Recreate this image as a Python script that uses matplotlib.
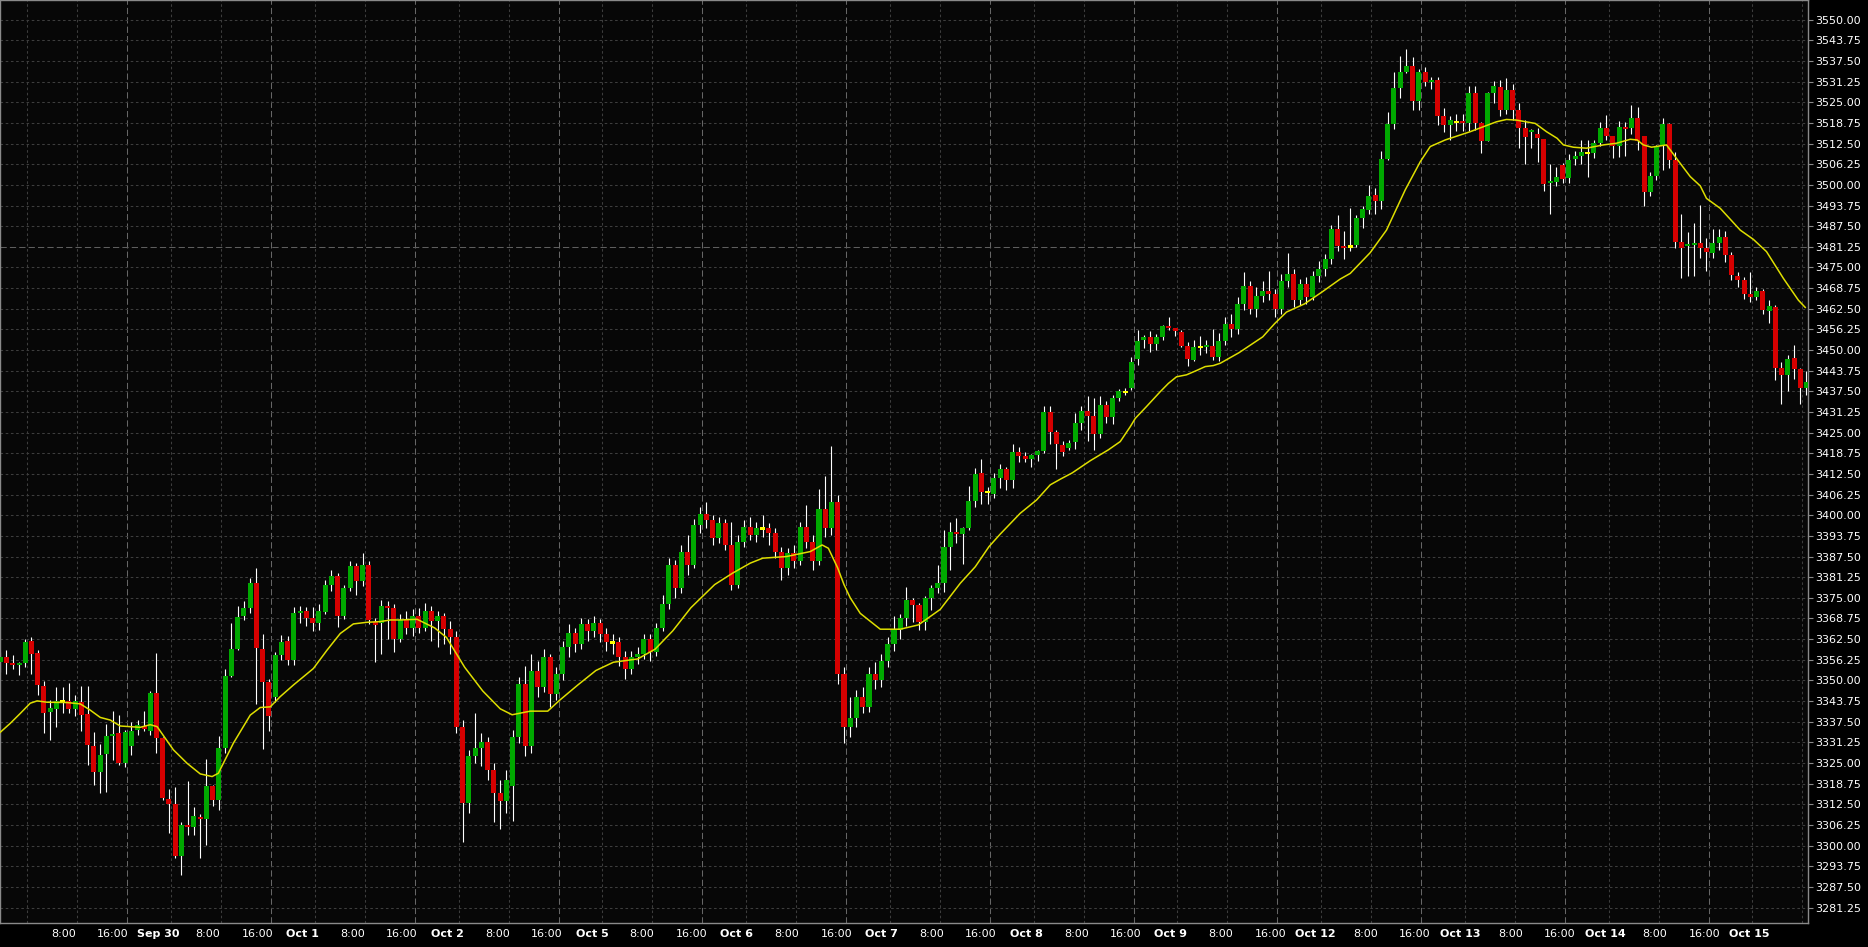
import matplotlib
matplotlib.use("Agg")
import matplotlib.pyplot as plt
import numpy as np

# hourly bars, 23 per session; Sep 29 and Oct 15 are partial sessions
opens = [
    3355.7, 3357.2, 3355.4, 3354.8, 3355.4, 3361.9, 3358.4, 3348.3, 3340.5, 3341.4, 3343.6, 3343.8, 3341.4, 3343.5, 3339.9, 3330.2, 3322.4, 3327.7, 3333.2, 3334.1, 3325.1,
    3330.2, 3335.0, 3336.2, 3334.7, 3346.2, 3332.7, 3314.1, 3312.7, 3296.9, 3306.2, 3305.6, 3308.7, 3308.2, 3318.0, 3313.8, 3329.5, 3351.3, 3359.5, 3369.5, 3371.9, 3379.5, 3359.5, 3349.6,
    3345.1, 3357.7, 3361.9, 3356.2, 3370.4, 3371.0, 3368.9, 3367.4, 3370.7, 3379.0, 3381.5, 3369.5, 3378.0, 3384.5, 3380.0, 3385.0, 3367.7, 3367.4, 3372.5, 3371.9, 3362.5, 3368.3, 3366.0,
    3369.5, 3366.0, 3371.0, 3368.0, 3369.5, 3365.5, 3363.0, 3336.0, 3313.0, 3327.0, 3329.5, 3331.5, 3323.0, 3316.0, 3313.5, 3318.0, 3333.0, 3349.0, 3330.0, 3353.0, 3348.0, 3357.0, 3346.0,
    3352.0, 3360.0, 3364.5, 3361.0, 3367.0, 3365.0, 3367.5, 3364.0, 3361.5, 3361.5, 3357.0, 3353.5, 3357.0, 3358.0, 3362.5, 3358.5, 3366.0, 3373.0, 3385.0, 3378.0, 3389.0, 3385.0, 3397.0,
    3400.5, 3398.5, 3393.0, 3397.5, 3391.0, 3379.0, 3392.0, 3396.5, 3394.0, 3396.0, 3396.0, 3394.5, 3389.0, 3384.0, 3388.5, 3386.0, 3396.5, 3392.0, 3386.0, 3402.0, 3396.0, 3404.0, 3352.0,
    3336.0, 3338.5, 3345.0, 3342.0, 3352.0, 3350.0, 3356.0, 3361.0, 3365.2, 3368.9, 3374.3, 3372.8, 3367.8, 3374.9, 3378.0, 3379.5, 3390.4, 3394.9, 3394.4, 3396.2, 3404.3, 3412.8, 3407.1,
    3406.4, 3411.3, 3414.0, 3410.7, 3419.1, 3417.9, 3417.0, 3418.2, 3419.4, 3431.2, 3425.2, 3421.3, 3420.5, 3422.3, 3427.9, 3431.5, 3430.0, 3424.7, 3433.4, 3429.7, 3435.5, 3437.4, 3438.4,
    3447.4, 3452.9, 3453.9, 3451.9, 3453.9, 3457.3, 3456.7, 3455.5, 3451.2, 3447.0, 3451.0, 3451.0, 3451.2, 3448.0, 3452.7, 3458.0, 3456.5, 3464.0, 3469.5, 3462.5, 3466.5, 3468.0, 3467.0,
    3462.5, 3471.0, 3473.0, 3465.0, 3470.0, 3466.0, 3472.5, 3474.5, 3477.5, 3486.5, 3481.5, 3481.3, 3481.8, 3489.9, 3492.4, 3496.9, 3495.1, 3507.8, 3518.5, 3529.3, 3534.2, 3536.0, 3525.4,
    3534.2, 3531.1, 3531.7, 3520.8, 3518.1, 3519.1, 3519.4, 3518.8, 3527.8, 3518.7, 3513.3, 3527.8, 3529.6, 3522.7, 3528.7, 3522.7, 3517.2, 3515.9, 3515.4, 3513.9, 3500.7, 3500.9, 3506.0,
    3502.1, 3507.8, 3508.7, 3509.7, 3509.6, 3512.6, 3517.2, 3514.8, 3511.7, 3517.5, 3517.2, 3520.2, 3514.8, 3497.8, 3502.7, 3511.8, 3518.5, 3507.5, 3482.7, 3481.6, 3481.7, 3482.4, 3480.8,
    3479.4, 3482.3, 3484.2, 3478.8, 3472.4, 3471.2, 3467.0, 3466.0, 3468.0, 3461.9, 3463.1, 3444.7, 3442.4, 3447.7, 3444.3, 3438.5,
]
highs = [
    3358.7, 3359.2, 3357.7, 3355.6, 3362.4, 3363.2, 3359.3, 3349.8, 3344.1, 3347.9, 3347.9, 3349.3, 3345.6, 3348.3, 3348.3, 3334.5, 3330.9, 3336.7, 3340.6, 3339.5, 3335.0,
    3337.3, 3338.0, 3340.7, 3346.9, 3358.3, 3332.9, 3317.1, 3317.7, 3307.0, 3319.5, 3311.7, 3309.6, 3326.2, 3318.3, 3333.2, 3353.5, 3367.4, 3372.5, 3374.0, 3381.0, 3384.0, 3364.0, 3350.5,
    3358.7, 3363.7, 3363.4, 3372.2, 3372.5, 3372.2, 3372.2, 3373.1, 3380.5, 3383.5, 3382.5, 3379.0, 3386.0, 3385.5, 3388.5, 3386.0, 3369.0, 3374.3, 3374.0, 3373.0, 3370.0, 3371.0, 3371.5,
    3372.0, 3373.5, 3372.5, 3371.0, 3370.5, 3368.0, 3365.0, 3338.0, 3329.0, 3340.0, 3334.0, 3333.0, 3325.0, 3320.0, 3323.0, 3335.0, 3351.0, 3354.5, 3358.0, 3356.0, 3359.5, 3358.0, 3354.0,
    3362.0, 3367.0, 3366.0, 3369.0, 3368.5, 3369.5, 3368.5, 3366.0, 3364.0, 3363.0, 3359.0, 3359.0, 3360.0, 3364.0, 3364.0, 3367.5, 3376.0, 3387.0, 3386.5, 3391.0, 3394.0, 3399.0, 3402.5,
    3404.0, 3400.0, 3399.5, 3399.0, 3398.0, 3394.0, 3398.5, 3399.5, 3398.0, 3400.0, 3397.5, 3396.0, 3390.5, 3390.0, 3391.0, 3398.0, 3403.0, 3394.0, 3408.0, 3412.0, 3421.0, 3406.0, 3354.0,
    3345.0, 3347.0, 3348.0, 3354.0, 3355.5, 3358.0, 3363.0, 3369.5, 3370.0, 3378.3, 3374.9, 3373.4, 3375.5, 3378.9, 3384.9, 3395.5, 3397.9, 3399.1, 3396.5, 3408.8, 3414.3, 3417.0, 3408.6,
    3412.8, 3415.5, 3414.6, 3421.6, 3420.6, 3419.1, 3418.5, 3419.7, 3433.1, 3433.1, 3425.8, 3422.5, 3422.8, 3431.0, 3433.1, 3436.1, 3435.6, 3436.0, 3434.5, 3436.5, 3438.3, 3438.5, 3447.9,
    3456.1, 3454.6, 3455.8, 3455.0, 3457.6, 3460.1, 3456.7, 3456.1, 3452.5, 3452.9, 3454.3, 3452.9, 3456.4, 3455.3, 3460.0, 3461.0, 3466.0, 3473.5, 3471.0, 3469.0, 3471.0, 3474.0, 3468.5,
    3473.0, 3479.5, 3474.5, 3471.5, 3472.0, 3474.0, 3477.0, 3479.0, 3488.0, 3491.0, 3486.0, 3493.0, 3490.9, 3493.6, 3500.0, 3499.1, 3510.3, 3522.1, 3534.2, 3539.0, 3541.1, 3538.7, 3535.0,
    3535.7, 3532.8, 3532.7, 3523.3, 3520.8, 3521.4, 3521.4, 3529.9, 3529.9, 3518.9, 3528.1, 3531.4, 3531.7, 3532.3, 3530.5, 3524.8, 3519.6, 3517.0, 3517.2, 3513.9, 3506.3, 3505.4, 3506.5,
    3509.3, 3510.3, 3513.6, 3513.6, 3513.6, 3519.0, 3521.2, 3514.8, 3519.3, 3519.0, 3524.2, 3523.6, 3514.8, 3504.0, 3512.1, 3520.2, 3518.8, 3509.9, 3491.2, 3485.7, 3488.5, 3493.9, 3483.9,
    3486.6, 3486.6, 3486.0, 3479.7, 3473.5, 3472.0, 3473.6, 3469.0, 3468.5, 3465.2, 3463.5, 3446.5, 3448.5, 3451.5, 3444.7, 3443.6,
]
lows = [
    3352.6, 3352.0, 3353.4, 3351.6, 3354.2, 3352.0, 3345.6, 3334.2, 3331.9, 3336.0, 3340.0, 3340.0, 3339.3, 3334.8, 3324.4, 3318.3, 3316.0, 3316.3, 3326.0, 3324.4, 3323.9,
    3327.4, 3333.5, 3334.8, 3333.5, 3328.1, 3313.8, 3303.7, 3296.3, 3291.2, 3303.2, 3303.2, 3296.3, 3300.2, 3312.1, 3310.8, 3328.1, 3351.0, 3359.2, 3368.3, 3370.5, 3342.9, 3329.2, 3334.8,
    3343.5, 3356.2, 3354.7, 3354.7, 3367.4, 3366.5, 3365.0, 3365.3, 3370.0, 3377.0, 3366.2, 3368.5, 3377.0, 3376.0, 3378.5, 3367.0, 3355.6, 3358.0, 3362.5, 3358.6, 3361.5, 3364.0, 3363.5,
    3364.5, 3365.0, 3362.0, 3360.0, 3361.0, 3358.0, 3334.0, 3301.0, 3310.0, 3325.0, 3324.0, 3320.0, 3307.0, 3305.0, 3310.0, 3307.5, 3331.0, 3327.0, 3328.0, 3345.0, 3346.5, 3342.0, 3344.0,
    3350.0, 3357.0, 3358.5, 3359.5, 3362.0, 3363.0, 3361.5, 3359.0, 3358.0, 3354.5, 3350.5, 3352.0, 3355.0, 3356.5, 3356.0, 3357.5, 3365.0, 3371.5, 3375.0, 3376.5, 3382.0, 3384.0, 3394.5,
    3396.0, 3391.0, 3391.5, 3389.5, 3377.5, 3378.0, 3390.5, 3392.5, 3392.0, 3393.5, 3391.0, 3387.0, 3380.5, 3382.0, 3384.0, 3385.0, 3390.0, 3383.5, 3385.0, 3393.5, 3394.0, 3349.0, 3331.0,
    3333.0, 3336.0, 3340.0, 3340.5, 3347.5, 3348.0, 3354.0, 3359.0, 3362.5, 3366.5, 3367.8, 3365.2, 3365.2, 3371.3, 3376.4, 3376.8, 3383.4, 3391.7, 3385.3, 3395.5, 3402.5, 3403.4, 3403.4,
    3405.2, 3408.2, 3407.6, 3408.2, 3416.2, 3416.1, 3414.6, 3416.4, 3418.8, 3421.6, 3414.0, 3418.0, 3419.6, 3419.9, 3425.8, 3422.6, 3419.8, 3423.5, 3428.0, 3427.5, 3434.7, 3436.5, 3438.0,
    3445.5, 3450.7, 3449.5, 3450.0, 3453.0, 3456.1, 3454.3, 3451.0, 3445.2, 3446.7, 3448.5, 3449.0, 3447.0, 3446.7, 3451.5, 3454.0, 3455.0, 3462.0, 3461.0, 3460.0, 3464.5, 3465.0, 3460.0,
    3461.0, 3469.0, 3463.0, 3463.5, 3464.0, 3465.0, 3470.5, 3472.5, 3476.0, 3480.0, 3477.5, 3480.0, 3481.3, 3486.8, 3491.2, 3491.2, 3492.7, 3507.5, 3516.9, 3526.3, 3534.0, 3522.7, 3522.7,
    3529.9, 3529.0, 3518.1, 3516.1, 3513.6, 3516.4, 3516.4, 3516.4, 3516.6, 3509.7, 3513.3, 3524.8, 3520.8, 3521.5, 3519.6, 3511.2, 3506.3, 3511.2, 3506.9, 3498.1, 3491.2, 3499.7, 3500.6,
    3500.6, 3506.0, 3506.3, 3502.5, 3508.1, 3511.8, 3513.6, 3508.1, 3508.4, 3508.7, 3515.4, 3510.6, 3493.6, 3496.6, 3501.5, 3504.5, 3505.0, 3480.9, 3471.8, 3472.4, 3472.4, 3477.9, 3473.9,
    3477.9, 3480.3, 3476.7, 3471.2, 3469.0, 3465.5, 3464.5, 3465.0, 3461.0, 3458.3, 3440.9, 3433.7, 3437.7, 3441.2, 3433.7, 3436.4,
]
closes = [
    3357.2, 3355.4, 3354.8, 3355.4, 3361.6, 3358.1, 3348.6, 3340.2, 3341.6, 3343.8, 3343.6, 3341.2, 3343.8, 3339.5, 3330.4, 3322.4, 3327.4, 3333.2, 3333.8, 3325.1, 3334.5,
    3334.7, 3336.4, 3335.4, 3346.2, 3332.7, 3314.4, 3312.7, 3297.0, 3306.2, 3305.6, 3309.0, 3308.1, 3318.0, 3313.8, 3329.5, 3351.3, 3359.5, 3369.2, 3371.9, 3379.5, 3359.8, 3349.6, 3339.3,
    3357.7, 3361.6, 3356.2, 3370.4, 3371.0, 3368.9, 3367.4, 3371.0, 3379.0, 3381.5, 3369.5, 3378.0, 3384.5, 3380.0, 3385.0, 3368.3, 3366.8, 3372.5, 3371.9, 3362.5, 3368.3, 3366.0, 3369.5,
    3366.0, 3371.0, 3368.0, 3369.5, 3365.5, 3363.0, 3336.0, 3313.0, 3327.0, 3329.5, 3331.5, 3323.0, 3316.0, 3313.5, 3320.0, 3333.0, 3349.0, 3330.0, 3353.0, 3348.0, 3357.0, 3346.0, 3352.0,
    3360.0, 3364.5, 3361.0, 3367.0, 3365.0, 3367.5, 3364.0, 3361.5, 3361.5, 3357.0, 3353.5, 3357.0, 3358.0, 3362.5, 3358.5, 3366.0, 3373.0, 3385.0, 3378.0, 3389.0, 3385.0, 3397.0, 3400.5,
    3398.5, 3393.0, 3397.5, 3391.0, 3379.0, 3392.0, 3396.5, 3394.0, 3396.0, 3396.0, 3394.5, 3389.0, 3384.0, 3388.5, 3386.0, 3396.5, 3392.0, 3386.0, 3402.0, 3396.0, 3404.0, 3352.0, 3336.0,
    3338.5, 3345.0, 3342.0, 3352.0, 3350.0, 3356.0, 3361.0, 3365.2, 3368.9, 3374.3, 3372.8, 3367.8, 3374.9, 3378.0, 3379.5, 3390.4, 3394.9, 3394.4, 3396.2, 3404.3, 3412.5, 3407.1, 3407.1,
    3411.3, 3414.0, 3410.7, 3419.1, 3417.9, 3417.0, 3418.2, 3419.4, 3431.2, 3425.2, 3421.6, 3419.0, 3422.0, 3427.9, 3431.5, 3430.1, 3424.7, 3433.4, 3429.7, 3435.5, 3437.6, 3437.4, 3446.5,
    3452.8, 3453.9, 3451.9, 3453.9, 3457.3, 3456.7, 3455.9, 3451.3, 3447.2, 3450.9, 3451.0, 3451.4, 3448.0, 3452.7, 3458.0, 3456.5, 3464.0, 3469.5, 3462.5, 3466.5, 3468.0, 3467.0, 3462.5,
    3471.0, 3473.0, 3465.0, 3470.0, 3466.0, 3472.5, 3474.5, 3477.5, 3486.5, 3481.5, 3481.0, 3481.3, 3489.9, 3492.6, 3496.6, 3495.1, 3507.8, 3518.5, 3529.3, 3534.2, 3536.0, 3525.4, 3534.2,
    3531.1, 3531.7, 3520.8, 3518.1, 3519.6, 3519.1, 3518.8, 3527.8, 3518.8, 3513.3, 3527.8, 3529.9, 3522.7, 3528.7, 3522.7, 3517.2, 3514.5, 3516.7, 3514.2, 3500.3, 3501.3, 3502.4, 3501.8,
    3507.5, 3508.7, 3509.9, 3509.7, 3512.6, 3517.2, 3514.8, 3511.7, 3517.5, 3516.9, 3520.2, 3513.3, 3497.8, 3502.7, 3511.8, 3518.5, 3507.5, 3482.7, 3480.9, 3482.1, 3482.2, 3480.8, 3479.7,
    3482.4, 3484.2, 3478.8, 3472.7, 3471.2, 3467.0, 3466.0, 3468.0, 3462.1, 3463.3, 3444.7, 3442.4, 3447.2, 3444.3, 3438.5, 3440.4,
]

# moving average: bar position, value
ma_bar = [0.0, 1.6, 3.2, 4.8, 5.9, 7.5, 10.7, 12.8, 14.4, 16.0, 17.6, 19.2, 22.4, 24.0, 25.1, 27.7, 29.9, 32.0,
          33.9, 34.9, 37.3, 40.0, 41.6, 43.2, 44.8, 46.9, 50.1, 52.3, 54.4, 56.5, 58.7, 60.8, 62.4, 64.0, 66.7,
          69.5, 71.4, 74.3, 77.2, 80.0, 81.9, 84.8, 87.6, 89.5, 92.4, 95.3, 98.1, 102.0, 104.8, 107.6, 110.5,
          114.3, 117.2, 120.0, 122.0, 125.8, 129.6, 131.5, 132.5, 134.0, 135.0, 136.0, 137.6, 140.8, 144.0,
          146.9, 150.4, 153.6, 156.0, 158.2, 160.0, 163.2, 165.8, 168.0, 169.6, 171.5, 174.4, 177.3, 179.2,
          180.8, 181.6, 183.4, 185.6, 186.9, 188.2, 189.8, 191.4, 192.8, 194.1, 195.2, 198.2, 202.0, 203.9,
          205.8, 208.7, 211.5, 214.4, 216.0, 219.2, 221.8, 224.8, 227.2, 228.8, 231.2, 233.6, 235.2, 237.3,
          239.4, 241.0, 242.6, 245.6, 247.4, 249.1, 250.1, 251.7, 253.8, 256.5, 258.6, 260.8, 261.9, 262.9,
          264.2, 266.6, 268.8, 270.4, 272.0, 273.0, 275.2, 278.4, 280.5, 282.6, 285.3, 287.7, 288.8]
ma_val = [3334.3, 3337.0, 3340.0, 3343.1, 3343.8, 3343.4, 3343.3, 3342.9, 3341.0, 3338.8, 3338.0, 3336.2, 3335.8,
          3336.6, 3336.0, 3329.0, 3324.9, 3321.7, 3320.9, 3321.9, 3331.0, 3339.5, 3341.8, 3342.0, 3345.1, 3348.6,
          3353.6, 3359.2, 3364.2, 3367.1, 3367.6, 3367.8, 3368.3, 3368.3, 3368.5, 3365.9, 3363.0, 3354.0, 3346.8,
          3341.4, 3339.6, 3340.7, 3340.7, 3344.0, 3348.6, 3353.0, 3355.5, 3356.5, 3359.5, 3365.0, 3372.0, 3379.0,
          3382.5, 3385.5, 3387.0, 3387.5, 3389.0, 3391.0, 3390.0, 3384.0, 3379.0, 3375.0, 3370.3, 3365.5, 3365.5,
          3366.8, 3371.5, 3379.4, 3384.4, 3390.5, 3394.3, 3400.6, 3404.6, 3409.2, 3410.9, 3412.8, 3416.5, 3419.8,
          3422.3, 3426.8, 3429.3, 3432.9, 3437.4, 3439.9, 3441.9, 3442.5, 3443.8, 3445.0, 3445.3, 3446.0, 3449.2,
          3454.0, 3458.0, 3461.5, 3464.0, 3467.6, 3471.5, 3473.2, 3479.5, 3486.3, 3498.5, 3507.0, 3511.6, 3513.6,
          3515.1, 3516.1, 3517.6, 3519.1, 3519.8, 3519.6, 3518.6, 3516.1, 3514.1, 3512.1, 3511.4, 3511.1, 3512.1,
          3512.6, 3513.8, 3513.6, 3512.1, 3511.4, 3512.1, 3506.5, 3502.5, 3499.7, 3495.9, 3492.9, 3486.3, 3483.5,
          3479.8, 3471.7, 3465.1, 3462.9]

day_names = ["Sep 30", "Oct 1", "Oct 2", "Oct 5", "Oct 6", "Oct 7", "Oct 8",
             "Oct 9", "Oct 12", "Oct 13", "Oct 14", "Oct 15"]
price_ticks = np.arange(3281.25, 3550.01, 6.25)

o = np.array(opens)
h = np.array(highs)
l = np.array(lows)
c = np.array(closes)
x = np.arange(len(c))

fig = plt.figure(figsize=(18.68, 9.47), dpi=100, facecolor="black")
ax = fig.add_axes([0, 24 / 947, 1808 / 1868, 923 / 947])
ax.set_facecolor("#070707")

# grid: session starts (long dashes), 8:00 / 16:00 (short dashes), price levels
for d in range(-1, 12):
    start = 20.35 + 23 * d
    ax.axvline(start, color="#666666", lw=0.75, ls=(0, (6, 3)), zorder=0)
    for off in (7, 15):
        ax.axvline(start + off, color="#3d3d3d", lw=0.75, ls=(0, (2.5, 2.5)), zorder=0)
for t in price_ticks:
    if t == 3481.25:
        ax.axhline(t, color="#5e5e5e", lw=0.75, ls=(0, (6, 3)), zorder=0)
    else:
        ax.axhline(t, color="#3d3d3d", lw=0.75, ls=(0, (2.5, 2.5)), zorder=0)

# candles
up = c > o
down = c < o
flat = c == o
ax.vlines(x, l, h, color="white", lw=0.8, zorder=2)
bottom = np.minimum(o, c)
height = np.maximum(np.abs(c - o), 0.6)
ax.bar(x[up], height[up], bottom=bottom[up], width=0.8, color="#00a800", linewidth=0, zorder=3)
ax.bar(x[down], height[down], bottom=bottom[down], width=0.8, color="#d60000", linewidth=0, zorder=3)
ax.bar(x[flat], 0.7, bottom=o[flat] - 0.35, width=0.8, color="#ffff00", linewidth=0, zorder=3)

ax.plot(ma_bar, ma_val, color="#dede00", lw=1.1, zorder=4)

ax.set_xlim(-0.04, 289.24)
ax.set_ylim(3276.57, 3555.96)

# price axis on the right
ax.yaxis.tick_right()
ax.set_yticks(price_ticks)
ax.set_yticklabels([f"{t:.2f}" for t in price_ticks])
ax.tick_params(axis="y", color="#8a8a8a", labelcolor="white", labelsize=8, length=3.6, width=0.8, pad=1.5)

# time axis labels
pos, labs, bold = [], [], []
for d in range(-1, 12):
    base = 25.25 + 23.15 * d
    if d >= 0:
        pos.append(base); labs.append(day_names[d]); bold.append(True)
    if d < 11:
        pos += [base + 8.0, base + 15.9]
        labs += ["8:00", "16:00"]
        bold += [False, False]
ax.set_xticks(pos)
ax.set_xticklabels(labs)
ax.tick_params(axis="x", length=0, labelcolor="white", labelsize=8, pad=4)
for tl, b in zip(ax.get_xticklabels(), bold):
    if b:
        tl.set_fontweight("bold")

for s in ax.spines.values():
    s.set_color("#8a8a8a")
    s.set_linewidth(1.0)

fig.savefig("out.png", dpi=100, facecolor="black")
